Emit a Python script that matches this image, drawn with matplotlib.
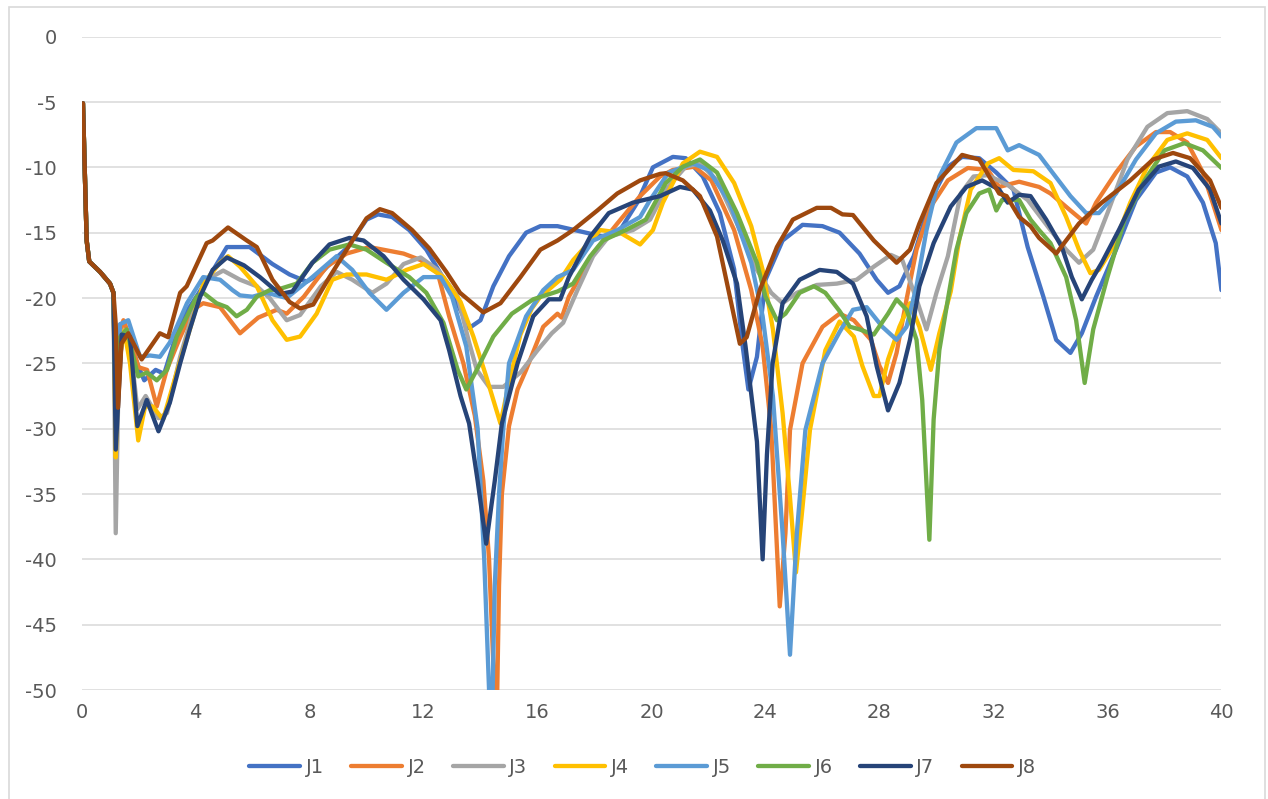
import matplotlib
matplotlib.use("Agg")
import matplotlib.pyplot as plt
from matplotlib.patches import Rectangle

# data (frequency on x, level on y)
start_x = [0.05, 0.18, 0.27, 0.65, 1.0, 1.12]
start_y = [-5.1, -15.6, -17.2, -18.0, -18.9, -19.6]

j1_x = [1.2, 1.3, 1.45, 1.7, 1.95, 2.2, 2.6, 2.9, 3.3, 3.7, 4.0, 4.5, 5.1, 5.9, 6.7, 7.3, 7.9,
        8.4, 8.8, 9.3, 10.0, 10.4, 10.9, 11.5, 12.1, 12.7, 13.2, 13.6, 14.0, 14.45, 15.0, 15.6,
        16.1, 16.7, 17.7, 18.3, 18.9, 19.5, 20.05, 20.75, 21.2, 21.8, 22.4, 22.9, 23.2, 23.4,
        23.7, 24.0, 24.6, 25.3, 26.0, 26.6, 27.3, 27.9, 28.3, 28.7, 29.2, 29.8, 30.4, 30.9,
        31.5, 32.1, 32.7, 33.2, 33.75, 34.2, 34.7, 35.1, 35.6, 36.3, 37.0, 37.7, 38.2, 38.8,
        39.35, 39.8, 40.0]
j1_y = [-29.5, -24, -22.5, -23.5, -25, -26.3, -25.5, -25.8, -23, -21, -20, -18.3, -16.1, -16.1,
        -17.4, -18.2, -18.75, -18.1, -17.2, -16.2, -14.0, -13.6, -13.8, -14.8, -16.3, -18.5,
        -20.5, -22.3, -21.7, -19.1, -16.8, -15.0, -14.5, -14.5, -15.0, -15.3, -14.8, -12.7,
        -10.0, -9.2, -9.3, -10.7, -13.5, -17.8, -23.7, -27, -24.5, -18.6, -15.6, -14.4, -14.5,
        -15.0, -16.6, -18.6, -19.6, -19.1, -16.8, -12.5, -9.95, -9.2, -9.3, -10.4, -11.7,
        -16.1, -19.9, -23.2, -24.2, -22.7, -19.9, -16.3, -12.5, -10.4, -10.0, -10.7, -12.7,
        -15.8, -19.4]

j2_x = [1.2, 1.32, 1.47, 1.7, 2.0, 2.3, 2.64, 2.99, 3.46, 3.9, 4.27, 4.86, 5.56, 6.2, 6.85,
        7.2, 7.8, 8.6, 9.3, 10.1, 11.3, 11.9, 12.5, 12.9, 13.4, 13.8, 14.1, 14.3, 14.45, 14.55,
        14.65, 14.75, 15.0, 15.3, 15.6, 16.2, 16.7, 16.85, 17.1, 17.95, 18.8, 19.6, 20.3,
        20.75, 21.5, 22.1, 22.9, 23.5, 23.9, 24.2, 24.5, 24.7, 24.86, 25.3, 26.0, 26.6, 27.1,
        27.7, 28.0, 28.3, 28.6, 28.95, 29.3, 29.8, 30.4, 31.1, 31.8, 32.2, 32.9, 33.6, 34.0,
        34.7, 35.25, 35.6, 36.3, 37.0, 37.7, 38.2, 38.8, 39.35, 40.0]
j2_y = [-30, -23, -21.7, -23, -25.3, -25.5, -28.3, -25.5, -23, -20.9, -20.4, -20.7, -22.7,
        -21.5, -20.9, -21.2, -19.9, -17.6, -16.6, -16.1, -16.6, -17.1, -18.1, -21.4, -25,
        -29, -34, -40, -48, -55, -42, -35, -29.8, -27, -25.5, -22.2, -21.2, -21.5, -19.9,
        -16.6, -14.3, -12.2, -10.7, -10.2, -9.95, -11.0, -14.8, -19.4, -23.7, -30, -43.6,
        -38, -30.1, -25, -22.2, -21.2, -21.7, -23.2, -25.2, -26.5, -24.2, -20.1, -16.3,
        -13.0, -11.0, -10.05, -10.2, -11.5, -11.1, -11.5, -12.0, -13.3, -14.3, -12.7, -10.4,
        -8.4, -7.3, -7.3, -8.1, -10.4, -14.8]

j3_x = [1.2, 1.3, 1.45, 1.7, 1.96, 2.25, 2.7, 3.0, 3.46, 3.9, 4.4, 4.97, 5.56, 6.15, 6.6, 7.2,
        7.67, 8.4, 8.95, 9.5, 10.2, 10.7, 11.3, 11.9, 12.5, 13.2, 13.6, 13.87, 14.3, 14.8,
        15.4, 16.0, 16.5, 16.9, 17.4, 17.95, 18.5, 19.35, 19.95, 20.5, 21.2, 21.7, 22.3, 23.0,
        23.7, 24.2, 24.6, 25.1, 25.8, 26.5, 27.2, 27.8, 28.4, 28.8, 29.3, 29.65, 30.0, 30.4,
        30.85, 31.3, 31.8, 32.5, 33.2, 34.0, 34.55, 35.0, 35.5, 36.0, 36.7, 37.4, 38.1, 38.8,
        39.5, 40.0]
j3_y = [-38, -26, -22.5, -23.5, -28.5, -27.5, -29.2, -28.8, -24.5, -21.2, -18.6, -17.9, -18.6,
        -19.1, -20, -21.7, -21.3, -19.1, -18.0, -18.6, -19.6, -18.9, -17.4, -16.9, -17.85,
        -19.9, -23.4, -25.5, -26.8, -26.8, -25.7, -24.0, -22.7, -21.9, -19.4, -16.8, -15.3,
        -14.8, -14.0, -11.7, -9.95, -9.7, -11.0, -14.3, -17.85, -19.6, -20.4, -19.6, -19.0,
        -18.9, -18.6, -17.6, -16.7, -17.1, -20.1, -22.4, -19.6, -16.8, -12.0, -10.7, -10.6,
        -11.35, -12.5, -14.8, -16.3, -17.3, -16.3, -13.5, -9.4, -6.9, -5.85, -5.7, -6.3, -7.4]

j4_x = [1.2, 1.3, 1.5, 1.7, 1.99, 2.23, 2.5, 2.86, 3.34, 3.8, 4.27, 4.86, 5.14, 5.56, 6.15,
        6.7, 7.2, 7.67, 8.25, 8.8, 9.3, 10.0, 10.7, 11.4, 12.0, 12.7, 13.3, 13.75, 14.2, 14.7,
        15.0, 15.4, 15.8, 16.1, 16.8, 17.25, 18.2, 18.9, 19.6, 20.05, 20.4, 21.1, 21.7, 22.3,
        22.9, 23.5, 23.9, 24.26, 24.6, 24.85, 25.07, 25.3, 25.56, 26.1, 26.6, 27.1, 27.4,
        27.8, 28.0, 28.3, 28.7, 29.07, 29.4, 29.8, 30.1, 30.5, 30.8, 31.2, 31.8, 32.2, 32.7,
        33.4, 34.0, 34.55, 35.0, 35.4, 35.7, 36.2, 36.8, 37.4, 38.1, 38.8, 39.5, 40.0]
j4_y = [-32.2, -25, -22.5, -25, -30.9, -28.3, -28.3, -29.3, -25.7, -22.4, -18.9, -17.3, -16.8,
        -17.6, -19.1, -21.7, -23.2, -22.95, -21.2, -18.6, -18.2, -18.2, -18.6, -17.85, -17.4,
        -18.4, -20.3, -22.95, -26.0, -29.6, -26.5, -22.8, -20.8, -19.9, -18.6, -17.1, -14.8,
        -15.0, -15.9, -14.8, -12.7, -9.7, -8.8, -9.2, -11.2, -14.5, -17.85, -22.4, -28.8,
        -35, -41, -36, -30.1, -24.0, -21.8, -22.95, -25.2, -27.5, -27.5, -24.7, -22.2, -20.4,
        -22.2, -25.5, -22.7, -19.5, -15.5, -11.7, -9.7, -9.3, -10.2, -10.3, -11.2, -13.8,
        -16.3, -18.1, -17.85, -16.1, -12.7, -9.95, -7.9, -7.4, -7.9, -9.3]

j5_x = [1.2, 1.35, 1.64, 2.05, 2.4, 2.75, 3.1, 3.7, 4.27, 4.86, 5.3, 5.56, 6.0, 6.5, 7.2, 8.1,
        8.95, 9.5, 10.1, 10.7, 11.3, 12.0, 12.6, 13.0, 13.5, 13.9, 14.13, 14.3, 14.38, 14.5,
        14.65, 14.8, 15.0, 15.6, 16.2, 16.7, 17.25, 17.95, 18.8, 19.6, 19.95, 20.6, 21.45,
        22.0, 22.75, 23.5, 23.9, 24.26, 24.6, 24.86, 25.1, 25.4, 26.0, 26.6, 27.07, 27.55,
        28.1, 28.6, 28.95, 29.3, 29.65, 30.1, 30.7, 31.4, 32.1, 32.5, 32.9, 33.6, 34.0, 34.7,
        35.25, 35.7, 36.3, 37.0, 37.7, 38.4, 39.1, 39.7, 40.0]
j5_y = [-29, -22, -21.7, -24.5, -24.4, -24.5, -23.4, -20.4, -18.4, -18.6, -19.4, -19.8, -19.9,
        -19.6, -20.0, -18.4, -16.8, -17.85, -19.6, -20.9, -19.6, -18.4, -18.4, -19.9, -23.7,
        -30, -40, -50, -55, -42, -35, -30, -25.0, -21.4, -19.4, -18.4, -17.85, -15.6, -14.8,
        -13.8, -12.5, -10.4, -9.7, -10.2, -12.7, -17.3, -21.4, -27.5, -38, -47.3, -38, -30.1,
        -25.0, -22.6, -20.9, -20.7, -22.2, -23.2, -22.2, -19.1, -14.8, -10.7, -8.1, -7.0,
        -7.0, -8.7, -8.3, -9.05, -10.2, -12.2, -13.5, -13.5, -12.0, -9.4, -7.4, -6.5, -6.4,
        -6.9, -7.65]

j6_x = [1.2, 1.35, 1.58, 1.99, 2.29, 2.64, 3.0, 3.34, 3.7, 4.04, 4.27, 4.74, 5.1, 5.44, 5.8,
        6.15, 6.6, 6.96, 7.55, 8.1, 8.7, 9.4, 10.0, 10.7, 11.5, 12.1, 12.7, 13.2, 13.5, 13.87,
        14.45, 15.1, 15.85, 16.7, 17.25, 17.85, 18.3, 19.1, 19.8, 20.5, 21.1, 21.7, 22.3, 23.0,
        23.7, 24.0, 24.4, 24.7, 25.2, 25.7, 26.1, 26.6, 26.96, 27.3, 27.8, 28.3, 28.6, 28.95,
        29.3, 29.5, 29.75, 29.9, 30.1, 30.4, 30.7, 31.05, 31.5, 31.85, 32.1, 32.3, 32.9, 33.3,
        33.6, 34.0, 34.55, 34.9, 35.2, 35.5, 36.0, 36.6, 37.3, 38.0, 38.7, 39.35, 40.0]
j6_y = [-28.5, -23, -22.4, -26.0, -25.7, -26.3, -25.5, -22.95, -21.4, -19.9, -19.6, -20.4,
        -20.7, -21.4, -20.9, -19.9, -19.4, -19.3, -18.9, -17.3, -16.3, -15.9, -16.3, -17.3,
        -18.4, -19.6, -21.9, -25.5, -27.0, -25.5, -22.95, -21.2, -20.1, -19.5, -18.9, -16.8,
        -15.6, -14.8, -14.0, -11.2, -9.95, -9.4, -10.4, -13.5, -17.3, -19.9, -21.7, -21.2,
        -19.6, -19.1, -19.6, -21.0, -22.2, -22.4, -22.8, -21.2, -20.1, -20.9, -23.2, -27.8,
        -38.5, -29.3, -24.0, -20.1, -16.3, -13.5, -12.0, -11.7, -13.3, -12.5, -12.5, -14.0,
        -14.8, -15.8, -18.4, -21.7, -26.5, -22.4, -18.4, -14.0, -11.0, -8.7, -8.15, -8.7,
        -10.05]

j7_x = [1.2, 1.41, 1.7, 1.96, 2.29, 2.7, 3.1, 3.46, 3.8, 4.16, 4.6, 5.1, 5.7, 6.26, 6.96, 7.4,
        8.1, 8.7, 9.4, 9.9, 10.6, 11.3, 12.0, 12.6, 12.9, 13.3, 13.6, 13.9, 14.2, 14.5, 14.75,
        15.3, 15.85, 16.4, 16.8, 17.1, 17.85, 18.5, 19.35, 20.3, 21.0, 21.45, 22.05, 22.5,
        23.0, 23.3, 23.7, 23.9, 24.05, 24.25, 24.6, 25.2, 25.9, 26.5, 27.07, 27.55, 27.9,
        28.3, 28.7, 29.07, 29.4, 29.9, 30.5, 31.05, 31.6, 32.2, 32.5, 32.9, 33.3, 33.85, 34.4,
        34.75, 35.1, 35.45, 35.8, 36.4, 37.1, 37.8, 38.4, 39.0, 39.6, 40.0]
j7_y = [-31.6, -22.8, -22.95, -29.8, -27.8, -30.2, -28.0, -25.0, -22.4, -19.9, -17.85, -16.9,
        -17.5, -18.4, -19.7, -19.5, -17.3, -15.9, -15.4, -15.6, -16.8, -18.6, -20.1, -21.7,
        -24.0, -27.5, -29.6, -34, -38.8, -34, -29.6, -25.0, -21.4, -20.1, -20.1, -18.4, -15.3,
        -13.5, -12.7, -12.2, -11.5, -11.7, -13.3, -15.6, -18.9, -23.7, -31, -40, -32, -25,
        -20.4, -18.6, -17.85, -18.0, -18.9, -21.4, -25.2, -28.6, -26.5, -23.2, -19.1, -15.8,
        -13.0, -11.5, -11.0, -11.7, -12.7, -12.1, -12.2, -14.0, -16.1, -18.4, -20.1, -18.6,
        -17.3, -14.8, -11.7, -9.95, -9.55, -10.05, -11.7, -14.3]

j8_x = [1.2, 1.28, 1.4, 1.64, 2.11, 2.4, 2.75, 3.04, 3.46, 3.69, 4.39, 4.6, 5.14, 5.8, 6.15,
        6.7, 7.3, 7.67, 8.13, 8.7, 9.42, 10.0, 10.47, 10.9, 11.6, 12.2, 12.8, 13.28, 14.1,
        14.7, 15.4, 16.1, 16.7, 17.25, 18.1, 18.8, 19.6, 20.3, 20.5, 21.1, 21.7, 22.3, 22.75,
        23.1, 23.34, 23.8, 24.4, 24.96, 25.8, 26.3, 26.7, 27.07, 27.8, 28.6, 29.07, 29.4,
        30.0, 30.9, 31.5, 32.2, 32.46, 32.9, 33.3, 33.6, 34.2, 35.0, 35.8, 36.8, 37.6, 38.3,
        38.9, 39.6, 40.0]
j8_y = [-22, -28.4, -23.5, -22.7, -24.7, -23.8, -22.7, -23.0, -19.6, -19.1, -15.8, -15.6,
        -14.6, -15.6, -16.1, -18.6, -20.3, -20.8, -20.5, -18.4, -15.9, -13.9, -13.2, -13.5,
        -14.8, -16.2, -18.0, -19.6, -21.1, -20.4, -18.4, -16.3, -15.6, -14.8, -13.3, -12.0,
        -11.0, -10.5, -10.45, -11.0, -12.2, -15.3, -19.9, -23.5, -23.0, -19.4, -16.1, -14.0,
        -13.1, -13.1, -13.6, -13.65, -15.6, -17.3, -16.3, -14.3, -11.2, -9.05, -9.4, -12.0,
        -12.2, -13.8, -14.5, -15.4, -16.6, -14.3, -12.7, -11.0, -9.4, -8.9, -9.3, -11.0, -13.1]

names = ["J1", "J2", "J3", "J4", "J5", "J6", "J7", "J8"]
colors = ["#4472C4", "#ED7D31", "#A5A5A5", "#FFC000", "#5B9BD5", "#70AD47", "#264478", "#9E480E"]
series = [(j1_x, j1_y), (j2_x, j2_y), (j3_x, j3_y), (j4_x, j4_y),
          (j5_x, j5_y), (j6_x, j6_y), (j7_x, j7_y), (j8_x, j8_y)]

x_ticks = [0, 4, 8, 12, 16, 20, 24, 28, 32, 36, 40]
y_ticks = [0, -5, -10, -15, -20, -25, -30, -35, -40, -45, -50]

fig = plt.figure(figsize=(12.68, 7.99), dpi=100)
ax = fig.add_axes([0.0643, 0.1364, 0.899, 0.8177])

for (xs, ys), name, c in zip(series, names, colors):
    ax.plot(start_x + xs, start_y + ys, color=c, lw=3.1, label=name,
            solid_joinstyle="round", solid_capstyle="round")

ax.set_xlim(0, 40)
ax.set_ylim(-50, 0)
ax.set_xticks(x_ticks)
ax.set_xticklabels([str(t) for t in x_ticks])
ax.set_yticks(y_ticks)
ax.set_yticklabels([str(t) for t in y_ticks])
ax.tick_params(length=0, labelsize=14, labelcolor="#595959")
ax.tick_params(axis="y", pad=18)
ax.tick_params(axis="x", pad=9)
ax.grid(axis="y", color="#D9D9D9", lw=1.1)
ax.set_axisbelow(True)
for s in ax.spines.values():
    s.set_visible(False)

fig.legend(loc="center", bbox_to_anchor=(0.507, 0.04), ncol=8, frameon=False,
           fontsize=14, handlelength=2.6, columnspacing=1.4, handletextpad=0.3,
           labelcolor="#595959")

fig.patches.append(Rectangle((9 / 1268, -0.01), 1256 / 1268, 1.0 - 7 / 799 + 0.01,
                             transform=fig.transFigure, fill=False,
                             edgecolor="#D9D9D9", lw=1.2))

fig.savefig("out.png", dpi=100)
